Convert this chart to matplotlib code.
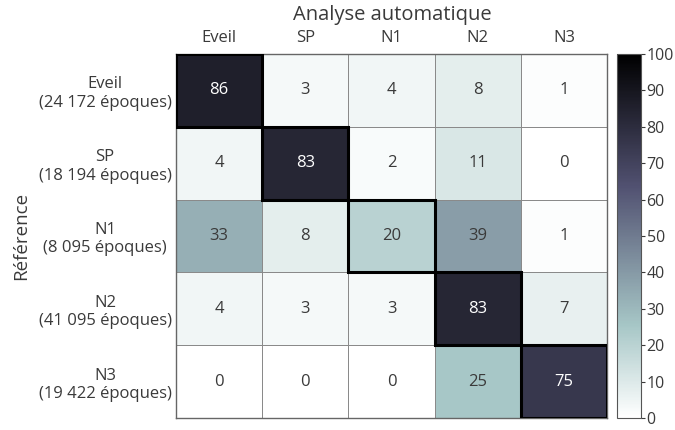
import numpy as np
import matplotlib
matplotlib.use("Agg")
import matplotlib.pyplot as plt
from matplotlib.patches import Rectangle

plt.rcParams['font.family'] = ['Open Sans', 'DejaVu Sans']

cols = ["Eveil", "SP", "N1", "N2", "N3"]
rows = ["Eveil\n(24 172 époques)", "SP\n(18 194 époques)", "N1\n(8 095 époques)",
        "N2\n(41 095 époques)", "N3\n(19 422 époques)"]
values = np.array([
    [86, 3, 4, 8, 1],
    [4, 83, 2, 11, 0],
    [33, 8, 20, 39, 1],
    [4, 3, 3, 83, 7],
    [0, 0, 0, 25, 75],
])

txt = '#3a3a3a'
fs = 12
W, H = 675, 430
fig = plt.figure(figsize=(6.75, 4.3), dpi=100)
ax = fig.add_axes([176/W, 1-418/H, 431/W, 364/H])
cax = fig.add_axes([617/W, 1-418/H, 24/W, 364/H])

im = ax.pcolormesh(values, cmap='bone_r', vmin=0, vmax=100, edgecolors='#8a8a8a', linewidth=0.7)
ax.set_xlim(0, 5)
ax.set_ylim(5, 0)
for i in range(5):
    for j in range(5):
        v = values[i, j]
        ax.text(j + 0.5, i + 0.5, str(v), ha='center', va='center', fontsize=fs,
                color='white' if v > 60 else txt)
    ax.add_patch(Rectangle((i, i), 1, 1, fill=False, edgecolor='black', linewidth=2.2, zorder=5))

ax.xaxis.tick_top()
ax.set_xticks(np.arange(5) + 0.5)
ax.set_xticklabels(cols, fontsize=fs, color=txt)
ax.set_yticks(np.arange(5) + 0.5)
ax.set_yticklabels(rows, fontsize=fs, color=txt, ha='center', multialignment='center')
ax.tick_params(axis='y', length=0, pad=51)
ax.tick_params(axis='x', length=0, pad=6)
fig.text(392/W, 1-15/H, "Analyse automatique", fontsize=14.5, color=txt,
         ha='center', va='center')
fig.text(21/W, 1-236/H, "Référence", fontsize=13.5, color=txt,
         ha='center', va='center', rotation=90)
for s in ax.spines.values():
    s.set_edgecolor('#666666')
    s.set_linewidth(1)

cb = fig.colorbar(im, cax=cax, ticks=np.arange(0, 101, 10))
cb.outline.set_edgecolor('#555555')
cb.ax.tick_params(labelsize=11.5, colors=txt, length=3, pad=1)
for t in cb.ax.get_yticklabels():
    t.set_color(txt)

fig.savefig('out.png', dpi=100)
